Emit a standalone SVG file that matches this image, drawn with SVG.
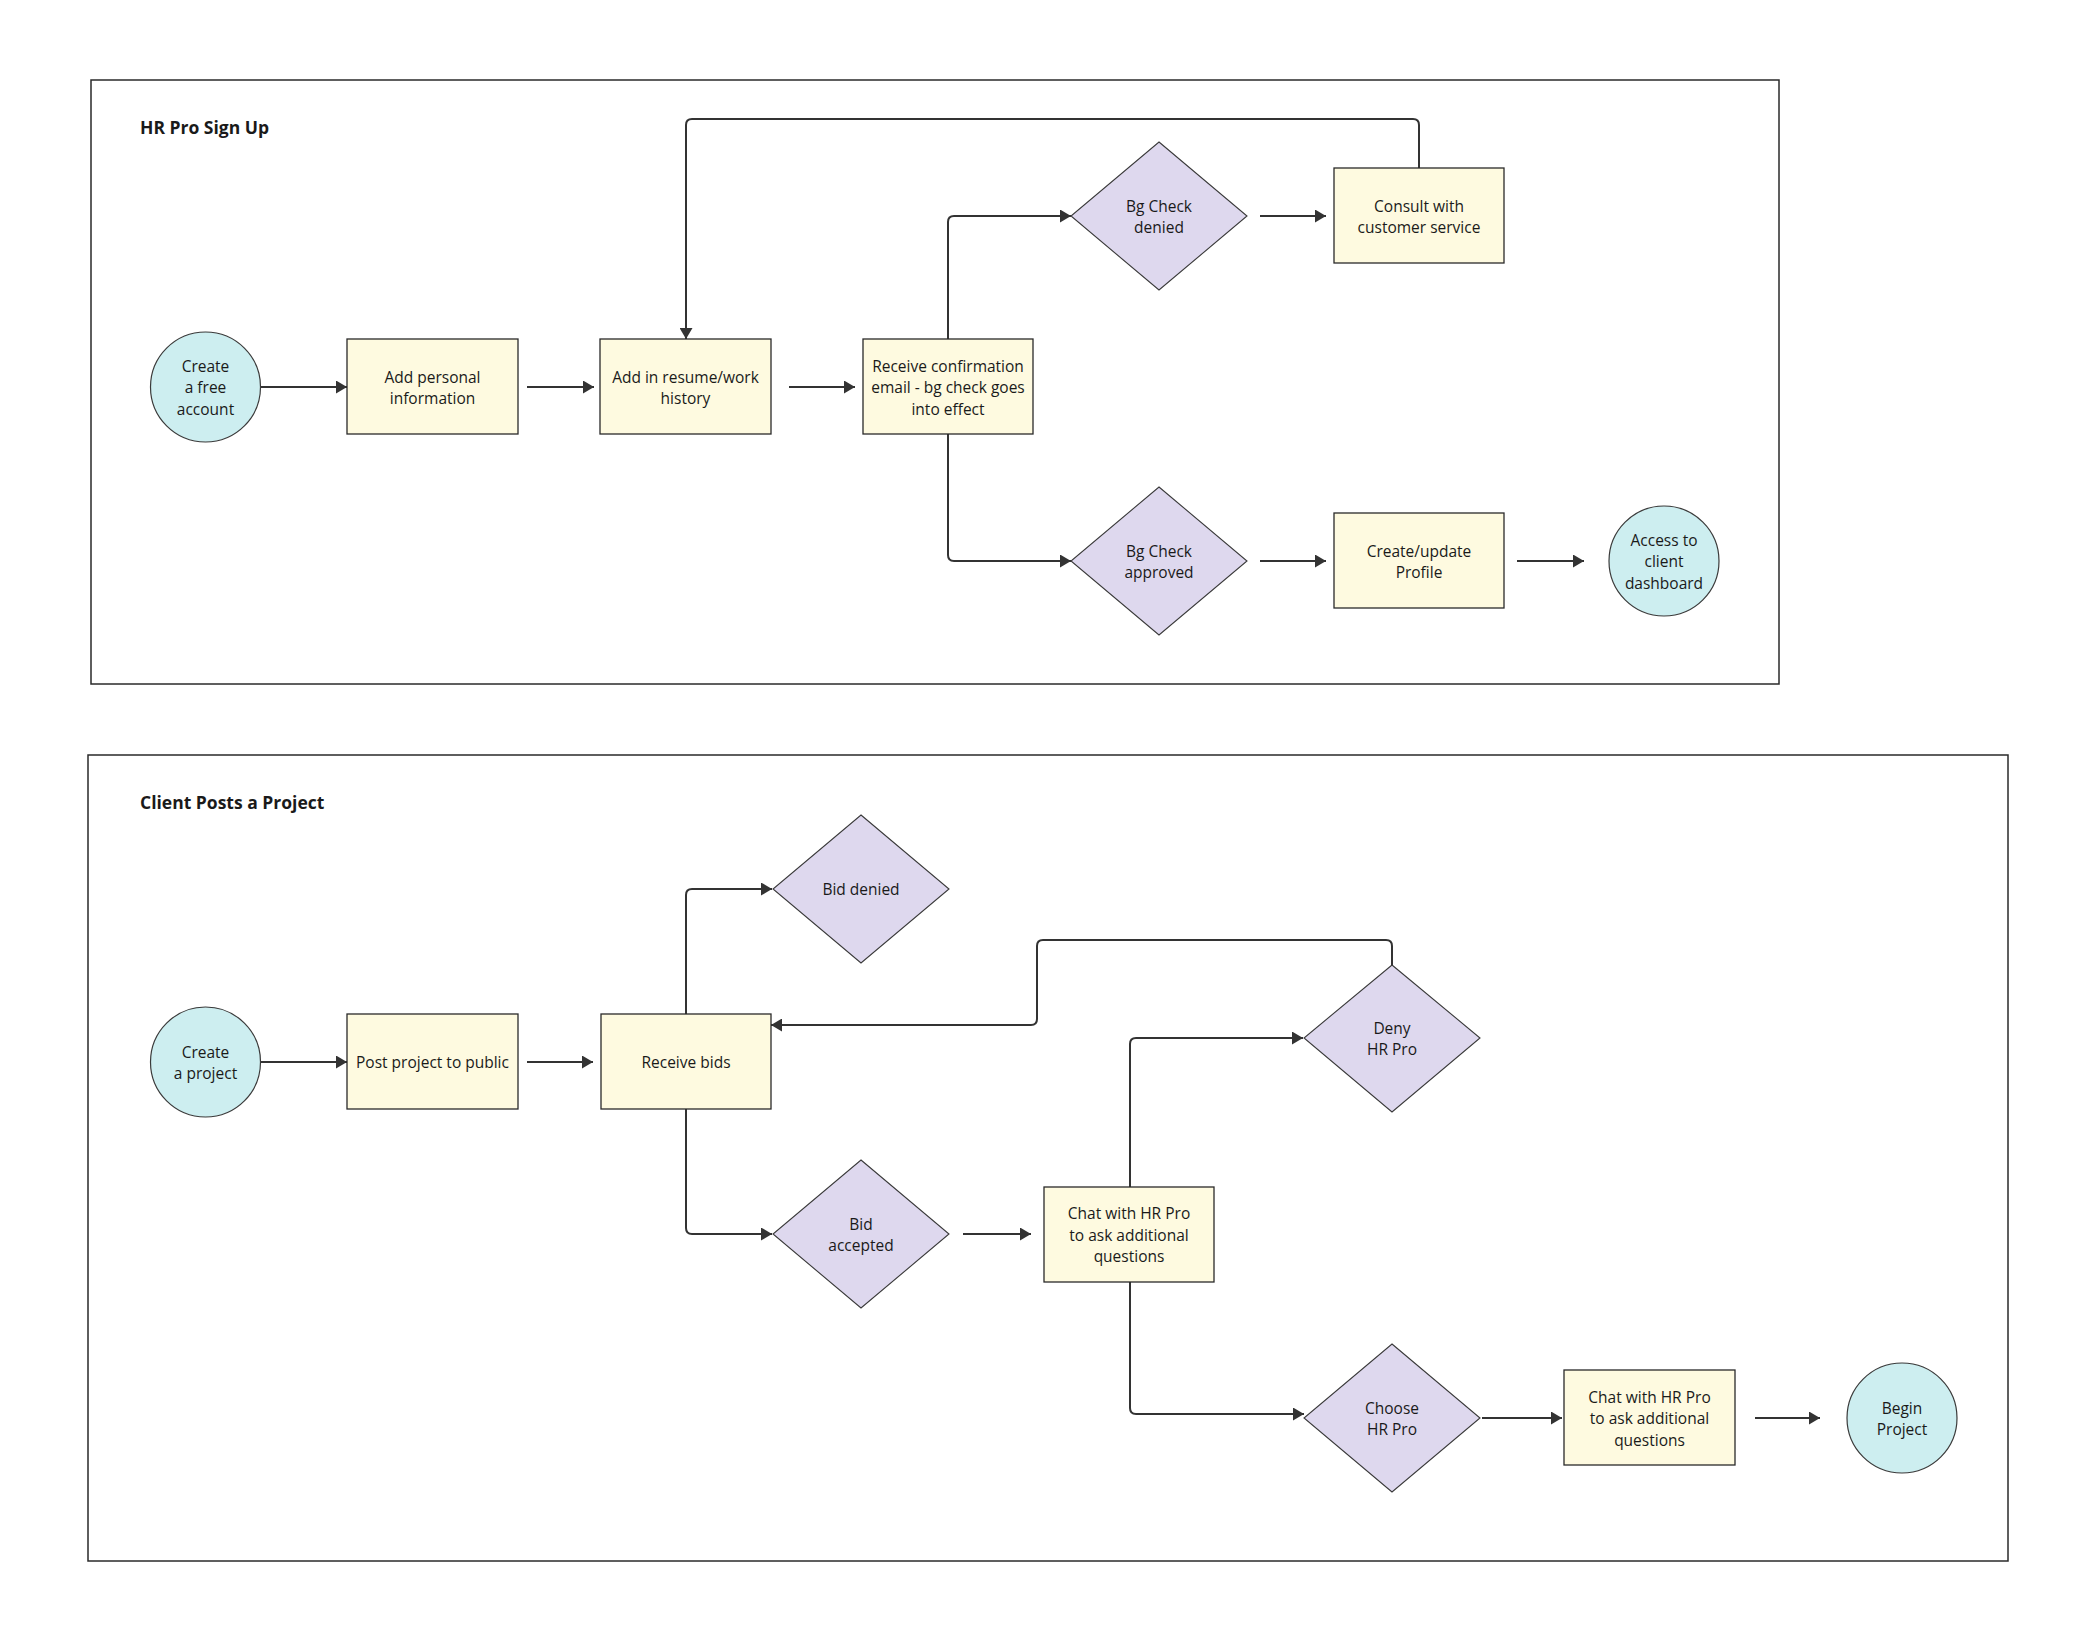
<svg xmlns="http://www.w3.org/2000/svg" width="2092" height="1648" viewBox="0 0 2092 1648">
<style>
.frame{fill:none;stroke:#2a2a2a;stroke-width:1.5}
.title{font-family:"Open Sans","Liberation Sans",sans-serif;font-weight:bold;font-size:17.5px;fill:#1a1a1a}
.circ{fill:#cdeef0;stroke:#3a3a3a;stroke-width:1.2}
.box{fill:#fefae0;stroke:#2a2a2a;stroke-width:1.3}
.dia{fill:#ded8ee;stroke:#3a3a3a;stroke-width:1.1}
.lbl{font-family:"Open Sans","Liberation Sans",sans-serif;font-size:15.5px;fill:#1a1a1a;text-anchor:middle;dominant-baseline:central}
.con{fill:none;stroke:#333;stroke-width:2;marker-end:url(#arr)}
</style>
<defs>
<marker id="arr" markerUnits="userSpaceOnUse" markerWidth="13" markerHeight="13" refX="11" refY="6.5" orient="auto">
<path d="M0,0 L11,6.5 L0,13 z" fill="#333"/>
</marker>
</defs>
<rect width="2092" height="1648" fill="#fff"/>

<g id="frame-signup">
<rect class="frame" x="91" y="80" width="1688" height="604"/>
<text class="title" x="140" y="134">HR Pro Sign Up</text>
</g>
<g id="frame-client">
<rect class="frame" x="88" y="755" width="1920" height="806"/>
<text class="title" x="140" y="809">Client Posts a Project</text>
</g>

<g id="connectors">
<path class="con" d="M261,387 H347"/>
<path class="con" d="M527,387 H594"/>
<path class="con" d="M789,387 H855"/>
<path class="con" d="M948,339 V222 Q948,216 954,216 H1071"/>
<path class="con" d="M948,434 V555 Q948,561 954,561 H1071"/>
<path class="con" d="M1260,216 H1326"/>
<path class="con" d="M1260,561 H1326"/>
<path class="con" d="M1517,561 H1584"/>
<path class="con" d="M1419,168 V125 Q1419,119 1413,119 H692 Q686,119 686,125 V339"/>

<path class="con" d="M261,1062 H347"/>
<path class="con" d="M527,1062 H593"/>
<path class="con" d="M686,1014 V895 Q686,889 692,889 H772"/>
<path class="con" d="M686,1109 V1228 Q686,1234 692,1234 H772"/>
<path class="con" d="M963,1234 H1031"/>
<path class="con" d="M1130,1187 V1044 Q1130,1038 1136,1038 H1303"/>
<path class="con" d="M1392,965 V946 Q1392,940 1386,940 H1043 Q1037,940 1037,946 V1019 Q1037,1025 1031,1025 H771"/>
<path class="con" d="M1130,1282 V1408 Q1130,1414 1136,1414 H1304"/>
<path class="con" d="M1482,1418 H1562"/>
<path class="con" d="M1755,1418 H1820"/>
</g>

<g id="n-create-account">
<circle class="circ" cx="205.5" cy="387" r="55"/>
<text class="lbl" x="205.5" y="365.5">Create</text>
<text class="lbl" x="205.5" y="387">a free</text>
<text class="lbl" x="205.5" y="408.5">account</text>
</g>
<g id="n-add-personal">
<rect class="box" x="347" y="339" width="171" height="95"/>
<text class="lbl" x="432.5" y="376.5">Add personal</text>
<text class="lbl" x="432.5" y="397.5">information</text>
</g>
<g id="n-add-resume">
<rect class="box" x="600" y="339" width="171" height="95"/>
<text class="lbl" x="685.5" y="376.5">Add in resume/work</text>
<text class="lbl" x="685.5" y="397.5">history</text>
</g>
<g id="n-receive-confirmation">
<rect class="box" x="863" y="339" width="170" height="95"/>
<text class="lbl" x="948" y="365.5">Receive confirmation</text>
<text class="lbl" x="948" y="387">email - bg check goes</text>
<text class="lbl" x="948" y="408.5">into effect</text>
</g>
<g id="n-bg-denied">
<polygon class="dia" points="1159,142 1247,216 1159,290 1071,216"/>
<text class="lbl" x="1159" y="205.5">Bg Check</text>
<text class="lbl" x="1159" y="226.5">denied</text>
</g>
<g id="n-consult">
<rect class="box" x="1334" y="168" width="170" height="95"/>
<text class="lbl" x="1419" y="205.5">Consult with</text>
<text class="lbl" x="1419" y="226.5">customer service</text>
</g>
<g id="n-bg-approved">
<polygon class="dia" points="1159,487 1247,561 1159,635 1071,561"/>
<text class="lbl" x="1159" y="550.5">Bg Check</text>
<text class="lbl" x="1159" y="571.5">approved</text>
</g>
<g id="n-create-profile">
<rect class="box" x="1334" y="513" width="170" height="95"/>
<text class="lbl" x="1419" y="550.5">Create/update</text>
<text class="lbl" x="1419" y="571.5">Profile</text>
</g>
<g id="n-access-dashboard">
<circle class="circ" cx="1664" cy="561" r="55"/>
<text class="lbl" x="1664" y="539.5">Access to</text>
<text class="lbl" x="1664" y="561">client</text>
<text class="lbl" x="1664" y="582.5">dashboard</text>
</g>

<g id="n-create-project">
<circle class="circ" cx="205.5" cy="1062" r="55"/>
<text class="lbl" x="205.5" y="1051.5">Create</text>
<text class="lbl" x="205.5" y="1072.5">a project</text>
</g>
<g id="n-post-project">
<rect class="box" x="347" y="1014" width="171" height="95"/>
<text class="lbl" x="432.5" y="1062">Post project to public</text>
</g>
<g id="n-receive-bids">
<rect class="box" x="601" y="1014" width="170" height="95"/>
<text class="lbl" x="686" y="1062">Receive bids</text>
</g>
<g id="n-bid-denied">
<polygon class="dia" points="861,815 949,889 861,963 773,889"/>
<text class="lbl" x="861" y="889">Bid denied</text>
</g>
<g id="n-bid-accepted">
<polygon class="dia" points="861,1160 949,1234 861,1308 773,1234"/>
<text class="lbl" x="861" y="1223.5">Bid</text>
<text class="lbl" x="861" y="1244.5">accepted</text>
</g>
<g id="n-chat-1">
<rect class="box" x="1044" y="1187" width="170" height="95"/>
<text class="lbl" x="1129" y="1213">Chat with HR Pro</text>
<text class="lbl" x="1129" y="1234.5">to ask additional</text>
<text class="lbl" x="1129" y="1256">questions</text>
</g>
<g id="n-deny-pro">
<polygon class="dia" points="1392,965 1480,1038 1392,1112 1304,1038"/>
<text class="lbl" x="1392" y="1027.5">Deny</text>
<text class="lbl" x="1392" y="1048.5">HR Pro</text>
</g>
<g id="n-choose-pro">
<polygon class="dia" points="1392,1344 1480,1418 1392,1492 1304,1418"/>
<text class="lbl" x="1392" y="1407.5">Choose</text>
<text class="lbl" x="1392" y="1428.5">HR Pro</text>
</g>
<g id="n-chat-2">
<rect class="box" x="1564" y="1370" width="171" height="95"/>
<text class="lbl" x="1649.5" y="1396.5">Chat with HR Pro</text>
<text class="lbl" x="1649.5" y="1418">to ask additional</text>
<text class="lbl" x="1649.5" y="1439.5">questions</text>
</g>
<g id="n-begin-project">
<circle class="circ" cx="1902" cy="1418" r="55"/>
<text class="lbl" x="1902" y="1407.5">Begin</text>
<text class="lbl" x="1902" y="1428.5">Project</text>
</g>
</svg>
